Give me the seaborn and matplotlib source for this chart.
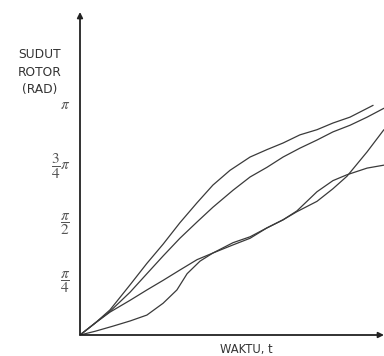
import numpy as np
import pandas as pd
import matplotlib
matplotlib.use("Agg")
import matplotlib.pyplot as plt
import seaborn as sns

# values: time (arbitrary units) and rotor angle (rad)
t_a = [0, 0.5, 1.0, 1.67, 2.23, 2.77, 3.33, 3.9, 4.43, 5.0, 5.67, 6.23, 6.77,
       7.33, 7.9, 8.43, 9.0, 9.77]
y_a = [0, 0.16, 0.34, 0.68, 0.97, 1.23, 1.52, 1.79, 2.03, 2.23, 2.41, 2.51, 2.60,
       2.71, 2.78, 2.87, 2.95, 3.11]

t_b = [0, 0.5, 1.0, 1.67, 2.23, 2.77, 3.33, 3.9, 4.43, 5.1, 5.67, 6.23, 6.77,
       7.33, 7.9, 8.43, 9.0, 9.57, 10.13]
y_b = [0, 0.16, 0.32, 0.58, 0.83, 1.07, 1.31, 1.53, 1.73, 1.96, 2.14, 2.27, 2.41,
       2.53, 2.64, 2.75, 2.84, 2.95, 3.07]

t_c = [0, 0.5, 1.0, 1.67, 2.23, 2.77, 3.33, 3.9, 4.43, 5.1, 5.67, 6.23, 6.77,
       7.23, 7.9, 8.43, 8.9, 9.57, 10.13]
y_c = [0, 0.16, 0.31, 0.47, 0.61, 0.74, 0.88, 1.02, 1.11, 1.22, 1.31, 1.45, 1.56,
       1.68, 1.94, 2.09, 2.17, 2.26, 2.30]

t_d = [0, 0.5, 1.1, 1.67, 2.23, 2.77, 3.23, 3.57, 4.0, 4.43, 5.1, 5.67, 6.23,
       6.77, 7.23, 7.9, 8.43, 8.9, 9.57, 10.13]
y_d = [0, 0.05, 0.12, 0.19, 0.27, 0.43, 0.61, 0.83, 1.00, 1.11, 1.25, 1.33, 1.45,
       1.56, 1.67, 1.81, 1.98, 2.15, 2.48, 2.78]

ytick_vals = [np.pi / 4, np.pi / 2, 3 * np.pi / 4, np.pi]
ytick_labels = [r"$\dfrac{\pi}{4}$", r"$\dfrac{\pi}{2}$", r"$\dfrac{3}{4}\pi$", r"$\pi$"]

sns.set_style("white")
plt.rcParams["font.family"] = ["DejaVu Sans"]
plt.rcParams["mathtext.fontset"] = "stix"

df = pd.concat([
    pd.DataFrame({"t": t_a, "y": y_a, "curve": "a"}),
    pd.DataFrame({"t": t_b, "y": y_b, "curve": "b"}),
    pd.DataFrame({"t": t_c, "y": y_c, "curve": "c"}),
    pd.DataFrame({"t": t_d, "y": y_d, "curve": "d"}),
])

fig = plt.figure(figsize=(3.84, 3.56), dpi=100)
ax = fig.add_axes([80 / 384, 21 / 356, 304 / 384, 323 / 356])

sns.lineplot(data=df, x="t", y="y", units="curve", estimator=None, sort=False,
             color="#3a3a3a", linewidth=0.9, ax=ax)

ax.set_xlim(0, 304 / 30)
ax.set_ylim(0, 323 / 73.85)
for s in ax.spines.values():
    s.set_visible(False)

# axes with arrow heads
ax.annotate("", xy=(1.0, 0), xytext=(0, 0), xycoords="axes fraction",
            arrowprops=dict(arrowstyle="-|>", color="#222222", lw=1.3,
                            mutation_scale=8, shrinkA=0, shrinkB=0))
ax.annotate("", xy=(0, 1.0), xytext=(0, 0), xycoords="axes fraction",
            arrowprops=dict(arrowstyle="-|>", color="#222222", lw=1.3,
                            mutation_scale=8, shrinkA=0, shrinkB=0))

ax.set_xticks([])
ax.set_yticks(ytick_vals)
ax.set_yticklabels(ytick_labels, fontsize=11, color="#555555")
ax.tick_params(axis="y", direction="in", length=3, width=0.8, color="#444444", pad=7)
ax.set_xlabel("")
ax.set_ylabel("")

fig.text(40 / 384, 1 - 72 / 356, "SUDUT\nROTOR\n(RAD)", ha="center", va="center",
         fontsize=8.8, color="#333333", linespacing=1.4)
fig.text(246 / 384, 1 - 349 / 356, "WAKTU, t", ha="center", va="center",
         fontsize=8.3, color="#333333")

fig.savefig("out.png", dpi=100)
plt.close(fig)
